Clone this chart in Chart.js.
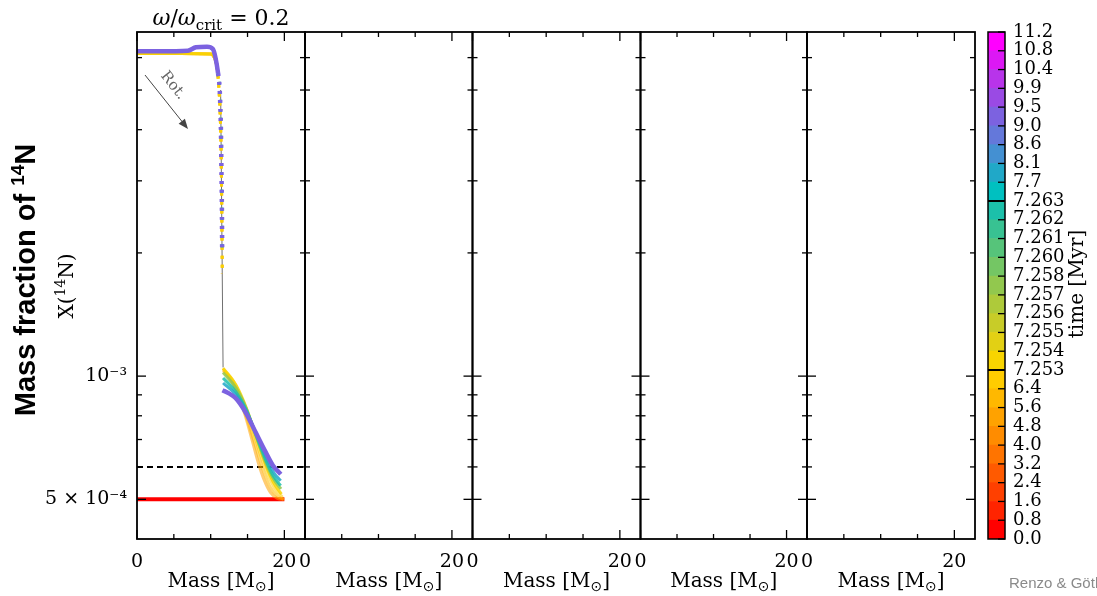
<!DOCTYPE html>
<html><head><meta charset="utf-8">
<script src="https://cdn.jsdelivr.net/npm/chart.js@4.4.1/dist/chart.umd.min.js"></script>
<style>
html,body{margin:0;padding:0;background:#fff;}
#wrap{position:relative;width:1097px;height:596px;overflow:hidden;background:#fff;}
#wrap canvas{position:absolute;left:0;top:0;}
</style></head><body><div id="wrap"></div>
<script>
// ================= DATA =================
// x axis (mass) ticks
const xTickValues = [0, 5, 10, 15, 20];
const xTickLabels = ['0', '', '', '', '20'];
// y axis (log) ticks
const yTickMarks = [5e-4, 6e-4, 7e-4, 8e-4, 9e-4, 1e-3, 2e-3, 3e-3, 4e-3, 5e-3, 6e-3];
const yLabelValues = [5e-4, 1e-3];
const yLabelTexts = ['5 × 10⁻⁴', '10⁻³'];

// colour bar (time, Myr)
const cbTickTimes = [0.0,0.8,1.6,2.4,3.2,4.0,4.8,5.6,6.4,7.253,7.254,7.255,7.256,7.257,7.258,7.260,7.261,7.262,7.263,7.7,8.1,8.6,9.0,9.5,9.9,10.4,10.8,11.2];
const cbTickLabels = ['0.0','0.8','1.6','2.4','3.2','4.0','4.8','5.6','6.4','7.253','7.254','7.255','7.256','7.257','7.258','7.260','7.261','7.262','7.263','7.7','8.1','8.6','9.0','9.5','9.9','10.4','10.8','11.2'];
const cbColors = [
  '#ff0000','#ff2400','#ff4000','#ff5a00','#ff7400','#ff8c00','#ffa200','#ffb800','#ffcc00',
  '#f8d400','#e2d014','#c8cc28','#aeca3a','#92c84e','#74c664','#56c47a','#38c292','#1cc0aa',
  '#00c0c0','#20a8c8','#4490d2','#6478da','#7c62e0','#9a4ae4','#b834ea','#dc18f4','#ff00ff'
];

// initial profile (t = 0) and reference level
const initTime = 0.0;
const initMass = [0, 20];
const initX = [5e-4, 5e-4];
const refMass = [0, 22.8];
const refX = [6e-4, 6e-4];
// thin grey connector through the steep gradient
const stepMass = [11.35, 11.68];
const stepX = [5.0e-3, 1.05e-3];

// core parts of the profiles
const coreOrangeMass = [0, 6, 10.0, 10.5, 10.85, 11.1, 11.3, 11.42, 11.5, 11.58];
const coreOrangeX = [6.14e-3, 6.14e-3, 6.12e-3, 6.0e-3, 5.7e-3, 5.1e-3, 4.3e-3, 3.5e-3, 2.6e-3, 1.78e-3];
const corePurpleMass = [0, 3, 6.9, 8.0, 9.5, 10.3, 10.65, 11.0, 11.2, 11.32, 11.4, 11.46, 11.52, 11.56];
const corePurpleX = [6.22e-3, 6.22e-3, 6.24e-3, 6.36e-3, 6.38e-3, 6.3e-3, 6.0e-3, 5.5e-3, 5.1e-3, 4.5e-3, 3.9e-3, 3.2e-3, 2.6e-3, 2.0e-3];

// profile times (Myr) and their envelopes
const profileTimes = [4.9, 5.7, 6.5, 7.2535, 7.2575, 7.2625, 7.9, 9.2];
const profileCore = ['orange','orange','orange','orange','purple','purple','purple','purple'];
const env49Mass = [11.68, 12.6, 13.6, 14.7, 15.65, 16.45, 17.3, 18.1, 19.05, 20.0];
const env49X = [1.03e-3, 0.985e-3, 0.91e-3, 0.80e-3, 0.695e-3, 0.615e-3, 0.555e-3, 0.52e-3, 0.503e-3, 0.50e-3];
const env57Mass = [11.68, 12.9, 14.0, 15.1, 16.2, 17.15, 18.1, 19.05, 19.9];
const env57X = [1.04e-3, 0.975e-3, 0.88e-3, 0.77e-3, 0.665e-3, 0.588e-3, 0.535e-3, 0.509e-3, 0.50e-3];
const env65Mass = [11.68, 13.2, 14.4, 15.65, 16.75, 17.8, 18.8, 19.75];
const env65X = [1.046e-3, 0.965e-3, 0.862e-3, 0.745e-3, 0.643e-3, 0.572e-3, 0.528e-3, 0.506e-3];
const env72535Mass = [11.68, 13.45, 14.85, 16.2, 17.4, 18.5, 19.6];
const env72535X = [1.045e-3, 0.95e-3, 0.835e-3, 0.708e-3, 0.612e-3, 0.551e-3, 0.515e-3];
const env72575Mass = [11.68, 13.45, 14.85, 16.2, 17.4, 18.5, 19.55];
const env72575X = [1.02e-3, 0.935e-3, 0.832e-3, 0.71e-3, 0.62e-3, 0.562e-3, 0.53e-3];
const env72625Mass = [11.68, 13.45, 14.85, 16.2, 17.4, 18.5, 19.5];
const env72625X = [0.99e-3, 0.914e-3, 0.826e-3, 0.715e-3, 0.628e-3, 0.57e-3, 0.54e-3];
const env79Mass = [11.68, 13.45, 14.85, 16.2, 17.5, 18.6, 19.5];
const env79X = [0.962e-3, 0.899e-3, 0.821e-3, 0.72e-3, 0.635e-3, 0.58e-3, 0.555e-3];
const env92Mass = [11.6, 12.41, 13.37, 14.73, 16.1, 17.46, 18.42, 19.51];
const env92X = [0.924e-3, 0.909e-3, 0.884e-3, 0.816e-3, 0.729e-3, 0.652e-3, 0.606e-3, 0.576e-3];
const envMassList = [env49Mass, env57Mass, env65Mass, env72535Mass, env72575Mass, env72625Mass, env79Mass, env92Mass];
const envXList = [env49X, env57X, env65X, env72535X, env72575X, env72625X, env79X, env92X];

// ================= LAYOUT / STYLE =================
const W = 1097, H = 596;
const TOP = 32, BOTTOM = 539;
const PL = [137, 305, 472.5, 640.5, 807];
const PR = [305, 472.5, 640.5, 807, 975];
const CB = {left: 988, right: 1005};
const massMax = 22.8, yMin = 4e-4, yMax = 6.93e-3;
const SERIF = '"DejaVu Serif", serif';
const wrap = document.getElementById('wrap');

function timeColor(t) {
  for (let i = 0; i < cbColors.length; i++) {
    if (t >= cbTickTimes[i] && t < cbTickTimes[i + 1]) return cbColors[i];
  }
  return cbColors[cbColors.length - 1];
}
function rgba(hex, a) {
  const n = parseInt(hex.slice(1), 16);
  return `rgba(${(n >> 16) & 255},${(n >> 8) & 255},${n & 255},${a})`;
}
function pts(ms, xs) { return ms.map((m, i) => ({x: m, y: xs[i]})); }

function drawRuns(ctx, runs, x, y, align) {
  let w = 0;
  runs.forEach(r => { ctx.font = r.font; r.w = ctx.measureText(r.t).width; w += r.w; });
  let cx = align === 'center' ? x - w / 2 : (align === 'right' ? x - w : x);
  ctx.textAlign = 'left'; ctx.textBaseline = 'alphabetic';
  runs.forEach(r => { ctx.font = r.font; ctx.fillText(r.t, cx, y + (r.dy || 0)); cx += r.w; });
}
function seg(ctx, x1, y1, x2, y2) { ctx.beginPath(); ctx.moveTo(x1, y1); ctx.lineTo(x2, y2); ctx.stroke(); }

// inward ticks + frame
const framePlugin = {
  id: 'frame',
  afterDraw(chart) {
    const {ctx, chartArea: a, scales} = chart;
    const xs = scales.x, ys = scales.y;
    ctx.save();
    ctx.strokeStyle = '#000'; ctx.lineWidth = 1.3;
    xTickValues.forEach((v, i) => {
      const px = xs.getPixelForValue(v);
      const len = xTickLabels[i] ? 9 : 5;
      seg(ctx, px, a.bottom, px, a.bottom - len);
      seg(ctx, px, a.top, px, a.top + len);
    });
    yTickMarks.forEach(v => {
      const py = ys.getPixelForValue(v);
      const len = yLabelValues.includes(v) ? 9 : 5;
      seg(ctx, a.left, py, a.left + len, py);
      seg(ctx, a.right, py, a.right - len, py);
    });
    ctx.lineWidth = 1.8;
    ctx.strokeRect(a.left, a.top, a.right - a.left, a.bottom - a.top);
    // x axis title
    ctx.fillStyle = '#000';
    drawRuns(ctx, [
      {t: 'Mass [M', font: '20px ' + SERIF},
      {t: '⊙', font: '14px "DejaVu Sans"', dy: 4},
      {t: ']', font: '20px ' + SERIF}
    ], (a.left + a.right) / 2, 587, 'center');
    ctx.restore();
  }
};

// texts belonging to the first panel
const panel1Text = {
  id: 'panel1Text',
  afterDraw(chart) {
    const {ctx} = chart;
    ctx.save();
    ctx.fillStyle = '#000';
    drawRuns(ctx, [
      {t: 'ω', font: 'italic 22px ' + SERIF},
      {t: '/', font: '22px ' + SERIF},
      {t: 'ω', font: 'italic 22px ' + SERIF},
      {t: 'crit', font: '15px ' + SERIF, dy: 5},
      {t: ' = 0.2', font: '22px ' + SERIF}
    ], 221, 25, 'center');
    // y labels
    ctx.save();
    ctx.translate(35, 280); ctx.rotate(-Math.PI / 2);
    drawRuns(ctx, [
      {t: 'Mass fraction of ', font: 'bold 29px "Liberation Sans"'},
      {t: '14', font: 'bold 19px "Liberation Sans"', dy: -11},
      {t: 'N', font: 'bold 29px "Liberation Sans"'}
    ], 0, 0, 'center');
    ctx.restore();
    ctx.save();
    ctx.translate(73, 286); ctx.rotate(-Math.PI / 2);
    drawRuns(ctx, [
      {t: 'X(', font: '20px ' + SERIF},
      {t: '14', font: '14px ' + SERIF, dy: -8},
      {t: 'N)', font: '20px ' + SERIF}
    ], 0, 0, 'center');
    ctx.restore();
    // "Rot." arrow annotation
    ctx.strokeStyle = '#444'; ctx.fillStyle = '#444'; ctx.lineWidth = 1;
    const x1 = 145, y1 = 75, x2 = 188, y2 = 129;
    const ang = Math.atan2(y2 - y1, x2 - x1);
    seg(ctx, x1, y1, x2 - 7 * Math.cos(ang), y2 - 7 * Math.sin(ang));
    ctx.beginPath();
    ctx.moveTo(x2, y2);
    ctx.lineTo(x2 - 10 * Math.cos(ang) + 4 * Math.sin(ang), y2 - 10 * Math.sin(ang) - 4 * Math.cos(ang));
    ctx.lineTo(x2 - 10 * Math.cos(ang) - 4 * Math.sin(ang), y2 - 10 * Math.sin(ang) + 4 * Math.cos(ang));
    ctx.closePath(); ctx.fill();
    ctx.save();
    ctx.translate(170, 88); ctx.rotate(ang);
    ctx.fillStyle = '#666';
    drawRuns(ctx, [{t: 'Rot.', font: '15px ' + SERIF}], 0, 0, 'center');
    ctx.restore();
    ctx.restore();
  }
};

function makeCanvas() {
  const cv = document.createElement('canvas');
  cv.width = W; cv.height = H;
  cv.style.width = W + 'px'; cv.style.height = H + 'px';
  wrap.appendChild(cv);
  return cv;
}

const tickFont = {family: 'DejaVu Serif', size: 19};
const cbFont = {family: 'DejaVu Serif', size: 18};

function makePanel(idx, datasets) {
  const first = idx === 0;
  const yScale = {
    type: 'logarithmic', min: yMin, max: yMax, display: first,
    grid: {display: false, drawTicks: false}, border: {display: false},
    afterBuildTicks: s => { s.ticks = yLabelValues.map(v => ({value: v})); },
    ticks: {autoSkip: false, padding: 10, color: '#000', font: tickFont,
      callback: (v, i) => yLabelTexts[i]}
  };
  if (first) yScale.afterFit = s => { s.width = PL[0]; };
  return new Chart(makeCanvas(), {
    type: 'line',
    data: {datasets},
    options: {
      animation: false, responsive: false, devicePixelRatio: 1, events: [],
      layout: {padding: {left: first ? 0 : PL[idx], right: W - PR[idx], top: TOP, bottom: 0}},
      plugins: {legend: {display: false}, tooltip: {enabled: false}},
      elements: {point: {radius: 0}},
      scales: {
        x: {
          type: 'linear', min: 0, max: massMax,
          grid: {display: false, drawTicks: false}, border: {display: false},
          afterBuildTicks: s => { s.ticks = xTickValues.map(v => ({value: v})); },
          afterFit: s => { s.height = H - BOTTOM; },
          ticks: {autoSkip: false, maxRotation: 0, padding: 12, color: '#000', font: tickFont,
            callback: (v, i) => xTickLabels[i]}
        },
        y: yScale
      }
    },
    plugins: first ? [framePlugin, panel1Text] : [framePlugin]
  });
}

// ---- datasets for panel 1 ----
const steepDash = ctx => {
  const dx = Math.abs(ctx.p1.x - ctx.p0.x), dy = Math.abs(ctx.p1.y - ctx.p0.y);
  return (dy > 12 && dy > 6 * dx) ? [3, 6] : undefined;
};
const ds = [];
ds.push({data: pts(initMass, initX), borderColor: timeColor(initTime), borderWidth: 4});
ds.push({data: pts(refMass, refX), borderColor: '#000', borderWidth: 2, borderDash: [6, 4]});
ds.push({data: pts(stepMass, stepX), borderColor: '#707070', borderWidth: 1});
profileTimes.forEach((t, i) => {
  const core = profileCore[i] === 'orange' ? pts(coreOrangeMass, coreOrangeX) : pts(corePurpleMass, corePurpleX);
  const env = pts(envMassList[i], envXList[i]);
  const col = timeColor(t);
  const last = i === profileTimes.length - 1;
  const alpha = t < 7 ? 0.55 : (last ? 1 : 0.85);
  ds.push({
    data: core.concat([{x: env[0].x, y: null}], env),
    borderColor: rgba(col, alpha),
    borderWidth: last ? 4.5 : 3,
    cubicInterpolationMode: 'monotone',
    spanGaps: false,
    segment: {borderDash: steepDash}
  });
});
ds.forEach((d, i) => { d.order = ds.length - i; });

makePanel(0, ds);
for (let p = 1; p < 5; p++) makePanel(p, []);

// ---- colour bar ----
const cbPlugin = {
  id: 'cbFrame',
  afterDraw(chart) {
    const {ctx, chartArea: a, scales} = chart;
    const ys = scales.y;
    ctx.save();
    ctx.strokeStyle = '#000';
    ctx.lineWidth = 1.3;
    cbTickLabels.forEach((_, i) => {
      const py = ys.getPixelForValue(i);
      seg(ctx, a.right, py, a.right - 7, py);
    });
    ctx.lineWidth = 2;
    [9, 18].forEach(i => { const py = ys.getPixelForValue(i); seg(ctx, a.left, py, a.right, py); });
    ctx.lineWidth = 1.5;
    ctx.strokeRect(a.left, a.top, a.right - a.left, a.bottom - a.top);
    // colour bar label
    ctx.fillStyle = '#000';
    ctx.save();
    ctx.translate(1083, 284); ctx.rotate(-Math.PI / 2);
    drawRuns(ctx, [{t: 'time [Myr]', font: '20px ' + SERIF}], 0, 0, 'center');
    ctx.restore();
    // credit
    ctx.fillStyle = '#8a8a8a';
    drawRuns(ctx, [{t: 'Renzo & Götberg', font: '15px "Liberation Sans"'}], 1009, 588, 'left');
    ctx.restore();
  }
};

new Chart(makeCanvas(), {
  type: 'bar',
  data: {
    labels: ['time'],
    datasets: cbColors.map((c, i) => ({
      data: [[i, i + 1]], backgroundColor: c, borderWidth: 0,
      grouped: false, barPercentage: 1, categoryPercentage: 1
    }))
  },
  options: {
    animation: false, responsive: false, devicePixelRatio: 1, events: [],
    layout: {padding: {left: CB.left, right: 0, top: TOP, bottom: H - BOTTOM}},
    plugins: {legend: {display: false}, tooltip: {enabled: false}},
    scales: {
      x: {display: false},
      y: {
        type: 'linear', position: 'right', min: 0, max: cbTickLabels.length - 1,
        grid: {display: false, drawTicks: false}, border: {display: false},
        afterBuildTicks: s => { s.ticks = cbTickLabels.map((_, i) => ({value: i})); },
        afterFit: s => { s.width = W - CB.right; },
        ticks: {autoSkip: false, padding: 8, color: '#000', font: cbFont,
          callback: (v, i) => cbTickLabels[i]}
      }
    }
  },
  plugins: [cbPlugin]
});
</script>
</body></html>
